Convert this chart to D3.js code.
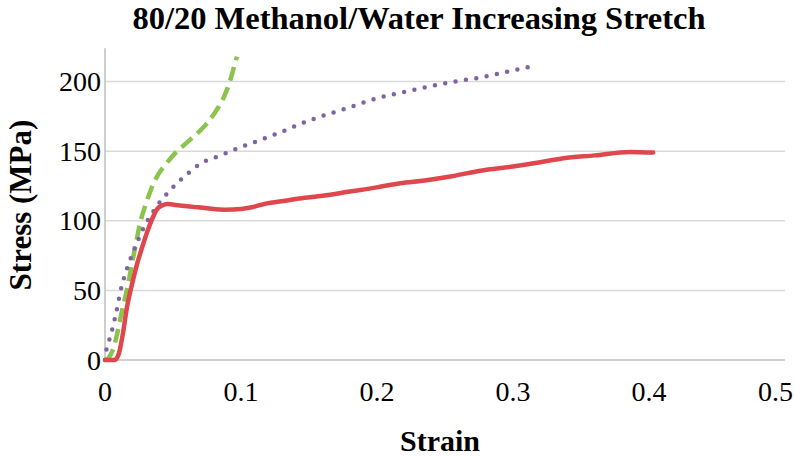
<!DOCTYPE html>
<html><head><meta charset="utf-8">
<script src="https://cdn.jsdelivr.net/npm/d3@7"></script>
<style>html,body{margin:0;padding:0;background:#fff;}</style>
</head><body>
<svg id="chart" width="794" height="457"></svg>
<script>
const title = "80/20 Methanol/Water Increasing Stretch";
const xLabel = "Strain";
const yLabel = "Stress (MPa)";
const xTicks = [0, 0.1, 0.2, 0.3, 0.4, 0.5];
const yTicks = [0, 50, 100, 150, 200];

const redStrain = [0,0.007,0.01,0.013,0.016,0.02,0.0233,0.027,0.031,0.035,0.038,0.042,0.046,0.055,0.065,0.075,0.088,0.1,0.109,0.119,0.13,0.143,0.16,0.18,0.2,0.217,0.235,0.255,0.276,0.3,0.32,0.337,0.36,0.386,0.403];
const redStress = [0,0,4,18,37,55,68,80,92,102,108,111,112,111,110,109,108,108.5,110,112.5,114,116,118,121,124,127,129,132,136,139,142,145,147,149.5,149];

const purpleStrain = [0,0.001,0.004,0.008,0.012,0.017,0.023,0.029,0.035,0.04,0.047,0.053,0.061,0.07,0.085,0.1,0.114,0.13,0.15,0.175,0.2,0.227,0.251,0.276,0.3,0.314];
const purpleStress = [0,7,17,33,52,68,83,96,106,113,121,127,134,141,147,153,158,164,172,180,188,194,199,203,208,211];

const greenStrain = [0,0.003,0.006,0.009,0.012,0.016,0.0196,0.023,0.026,0.03,0.034,0.039,0.045,0.052,0.06,0.068,0.075,0.081,0.086,0.09,0.093,0.095,0.097];
const greenStress = [0,2,8,19,33,50,68,85,99,112,123,133,141,149,156,163,170,178,186,195,204,211,218];

const svg = d3.select("#chart");
const x = d3.scaleLinear().domain([0, 0.5]).range([105, 785]);
const y = d3.scaleLinear().domain([0, 200]).range([360, 81.6]);
const yTop = y(224);

const serif = "'Liberation Serif','Times New Roman',serif";

// gridlines
svg.append("g").selectAll("line").data(yTicks.filter(d => d > 0)).join("line")
  .attr("x1", x(0)).attr("x2", x(0.5)).attr("y1", d => y(d)).attr("y2", d => y(d))
  .attr("stroke", "#d9d9d9").attr("stroke-width", 1.5);

// axes lines
svg.append("line").attr("x1", x(0)).attr("x2", x(0)).attr("y1", yTop).attr("y2", y(0))
  .attr("stroke", "#bfbfbf").attr("stroke-width", 1.5);
svg.append("line").attr("x1", x(0)).attr("x2", x(0.5)).attr("y1", y(0)).attr("y2", y(0))
  .attr("stroke", "#bfbfbf").attr("stroke-width", 1.5);

// tick labels
svg.append("g").selectAll("text").data(yTicks).join("text")
  .attr("x", 101).attr("y", d => y(d)).attr("dy", "0.34em")
  .attr("text-anchor", "end").attr("font-family", serif).attr("font-size", 28)
  .attr("fill", "#000").text(d => d);
svg.append("g").selectAll("text").data(xTicks).join("text")
  .attr("x", (d, i) => i === xTicks.length - 1 ? 793 : x(d)).attr("y", 401)
  .attr("text-anchor", (d, i) => i === xTicks.length - 1 ? "end" : "middle")
  .attr("font-family", serif).attr("font-size", 28)
  .attr("fill", "#000").text(d => d);

// titles
svg.append("text").attr("x", 419).attr("y", 29).attr("text-anchor", "middle")
  .attr("font-family", serif).attr("font-weight", "bold").attr("font-size", 32.5).text(title);
svg.append("text").attr("x", 440).attr("y", 451).attr("text-anchor", "middle")
  .attr("font-family", serif).attr("font-weight", "bold").attr("font-size", 30).text(xLabel);
svg.append("text").attr("transform", "translate(31,205) rotate(-90)").attr("text-anchor", "middle")
  .attr("font-family", serif).attr("font-weight", "bold").attr("font-size", 31).text(yLabel);

const line = d3.line().x(d => x(d[0])).y(d => y(d[1])).curve(d3.curveMonotoneX);
const zip = (a, b) => a.map((v, i) => [v, b[i]]);

svg.append("path").datum(zip(greenStrain, greenStress)).attr("d", line)
  .attr("fill", "none").attr("stroke", "#8cc24e").attr("stroke-width", 4.5)
  .attr("stroke-dasharray", "14,7").attr("stroke-linecap", "butt");
svg.append("path").datum(zip(purpleStrain, purpleStress)).attr("d", line)
  .attr("fill", "none").attr("stroke", "#8064a2").attr("stroke-width", 4.5)
  .attr("stroke-dasharray", "0,10.5").attr("stroke-linecap", "round");
svg.append("path").datum(zip(redStrain, redStress)).attr("d", line)
  .attr("fill", "none").attr("stroke", "#e0474c").attr("stroke-width", 4.5)
  .attr("stroke-linejoin", "round").attr("stroke-linecap", "round");
</script>
</body></html>
